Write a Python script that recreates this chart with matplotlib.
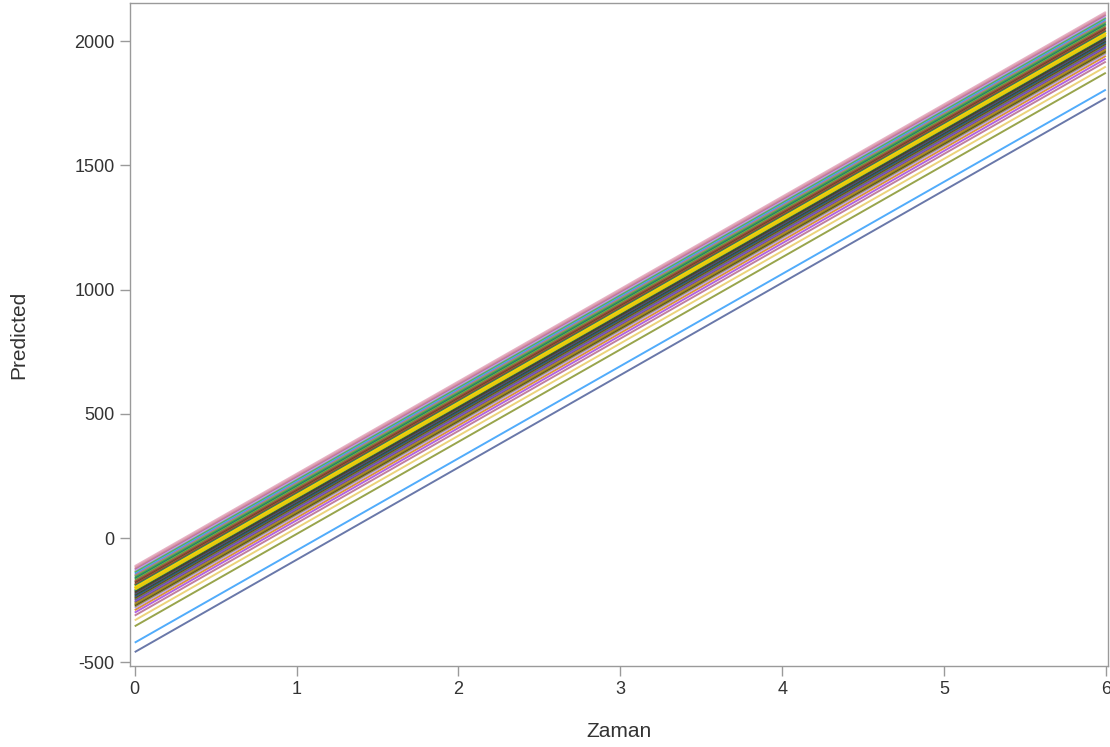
import matplotlib.pyplot as plt

plt.rcParams['font.family'] = ['Liberation Sans', 'DejaVu Sans']
plt.rcParams['axes.unicode_minus'] = False

# predicted values at Zaman = 0 and Zaman = 6 for each subject line
zaman = [0, 6]
start = [-459, -421, -355, -331, -312, -300, -290, -282,
         -276, -271, -266, -261, -257, -252, -248, -244,
         -240, -236, -232, -228, -224, -220, -216, -212,
         -208, -204, -199, -194, -189, -184, -178, -172,
         -166, -160, -154, -148, -142, -136, -130, -124,
         -118, -113]
end = [1771, 1805, 1873, 1898, 1918, 1930, 1941, 1949,
       1955, 1960, 1965, 1970, 1975, 1979, 1983, 1987,
       1991, 1995, 1999, 2003, 2007, 2011, 2015, 2019,
       2023, 2027, 2032, 2037, 2042, 2047, 2053, 2059,
       2065, 2071, 2077, 2083, 2089, 2095, 2101, 2107,
       2113, 2118]
colors = ['#445694', '#2597FA', '#7F8E1F', '#E8C85A', '#B26084', '#9D3CDB', '#D17800', '#B38EF3',
          '#7F8E1F', '#543005', '#7F8E1F', '#D17800', '#445694', '#9D3CDB', '#445694', '#7F8E1F',
          '#543005', '#445694', '#01665E', '#543005', '#445694', '#3a3a3a', '#543005', '#01665E',
          '#7F8E1F', '#F9DA04', '#D1A000', '#F9DA04', '#01665E', '#A23A2E', '#543005', '#A23A2E',
          '#47A82A', '#01665E', '#47A82A', '#B26084', '#2597FA', '#47A82A', '#B38EF3', '#B26084',
          '#D58C9C', '#E0A0B8']

fig = plt.figure(figsize=(11.1, 7.47), dpi=100)
ax = fig.add_axes([0.117, 0.1084, 0.881, 0.8876])

for s, e, c in zip(start, end, colors):
    lw = 2.6 if c == '#F9DA04' else 1.4
    ax.plot(zaman, [s, e], color=c, lw=lw, alpha=0.8, solid_capstyle='butt')

ax.set_xlim(-0.03, 6.012)
ax.set_ylim(-515, 2154)
ax.set_xticks(range(0, 7))
ax.set_yticks([-500, 0, 500, 1000, 1500, 2000])

for sp in ax.spines.values():
    sp.set_color('#9a9a9a')
    sp.set_linewidth(1.0)
ax.tick_params(direction='out', length=7, width=1, color='#9a9a9a',
               labelsize=13, labelcolor='#333333', pad=4)

ax.set_xlabel('Zaman', fontsize=15, color='#333333', labelpad=17)
ax.set_ylabel('Predicted', fontsize=15, color='#333333', labelpad=33)

fig.savefig('out.png', dpi=100)
